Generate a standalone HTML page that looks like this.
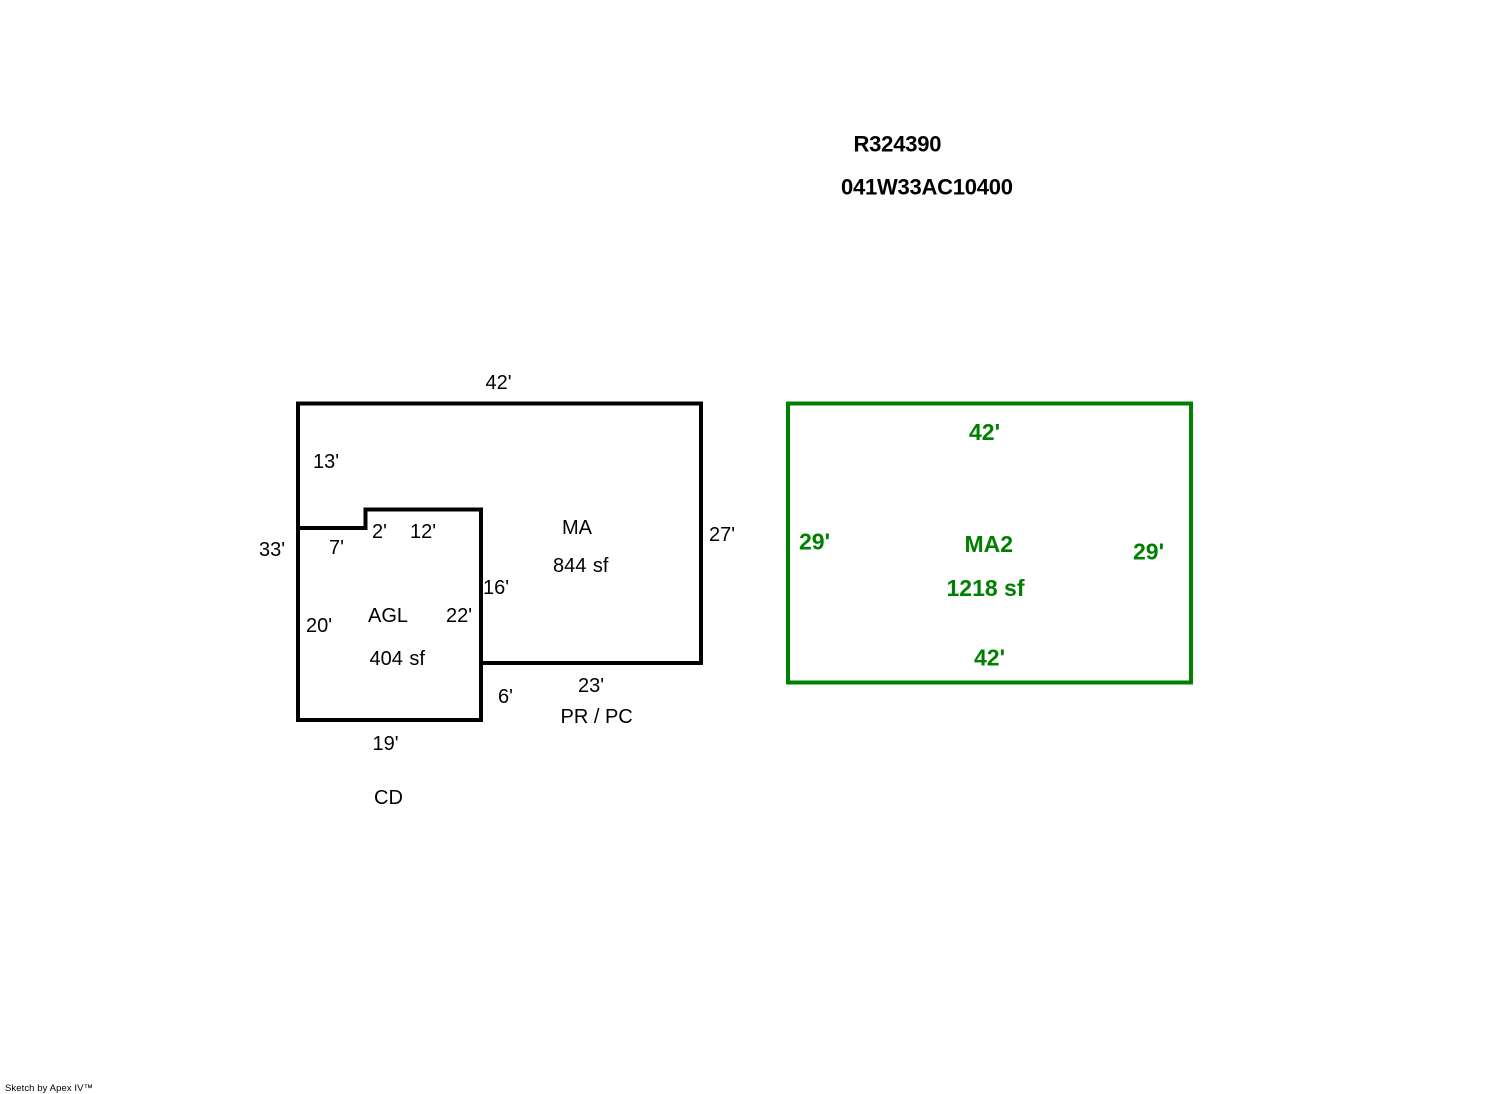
<!DOCTYPE html>
<html>
<head>
<meta charset="utf-8">
<style>
html,body{margin:0;padding:0;background:#fff;width:1492px;height:1094px;overflow:hidden}
svg{display:block}
text{font-family:"Liberation Sans",Arial,sans-serif}
.b{font-size:20px;fill:#000}
.s{word-spacing:1px}
.g{font-size:23px;fill:#008000;font-weight:bold}
.h{font-size:22px;fill:#000;font-weight:bold}
</style>
</head>
<body>
<svg width="1492" height="1094" viewBox="0 0 1492 1094" xmlns="http://www.w3.org/2000/svg">
<rect width="1492" height="1094" fill="#fff"/>
<g fill="none" stroke="#000" stroke-width="4" stroke-linejoin="miter" stroke-linecap="butt">
<path d="M298 403.500H701V663H481"/>
<path d="M298 401.500V720H481V509.500H365.500V528H298"/>
</g>
<rect x="788" y="403.500" width="403" height="279" fill="none" stroke="#008000" stroke-width="4"/>

<text class="h" x="853.500" y="151.500" textLength="88" lengthAdjust="spacing">R324390</text>
<text class="h" x="841" y="194.500" textLength="172" lengthAdjust="spacing">041W33AC10400</text>

<text class="b" x="485.500" y="389">42'</text>
<text class="b" x="313" y="468">13'</text>
<text class="b" x="259" y="556">33'</text>
<text class="b" x="329" y="554">7'</text>
<text class="b" x="372" y="538">2'</text>
<text class="b" x="410" y="538">12'</text>
<text class="b" x="562" y="534">MA</text>
<text class="b s" x="553" y="572">844 sf</text>
<text class="b" x="709" y="541">27'</text>
<text class="b" x="483" y="594">16'</text>
<text class="b" x="306" y="632">20'</text>
<text class="b" x="368" y="622">AGL</text>
<text class="b" x="446" y="622">22'</text>
<text class="b s" x="369.500" y="665">404 sf</text>
<text class="b" x="498" y="703">6'</text>
<text class="b" x="578" y="692">23'</text>
<text class="b" x="560.500" y="723">PR / PC</text>
<text class="b" x="372.500" y="750">19'</text>
<text class="b" x="374" y="804">CD</text>

<text class="g" x="969" y="440">42'</text>
<text class="g" x="799" y="549.500">29'</text>
<text class="g" x="1133" y="559.500">29'</text>
<text class="g" x="964.500" y="552">MA2</text>
<text class="g" x="946.500" y="596">1218 sf</text>
<text class="g" x="974" y="665.500">42'</text>

<text x="5" y="1091" font-size="9.500" fill="#000" textLength="88" lengthAdjust="spacing">Sketch by Apex IV™</text>
</svg>
</body>
</html>
